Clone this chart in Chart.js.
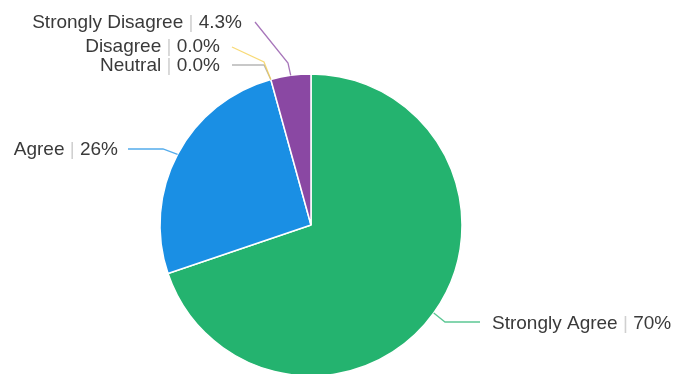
<!DOCTYPE html>
<html>
<head>
<meta charset="utf-8">
<script src="https://cdn.jsdelivr.net/npm/chart.js@4"></script>
<style>
  html, body { margin: 0; padding: 0; background: #fff; overflow: hidden; }
  canvas { display: block; }
</style>
</head>
<body>
<canvas id="pie" width="675" height="374"></canvas>
<script>
// Survey responses, share of respondents in percent
const categories = ['Strongly Agree', 'Agree', 'Neutral', 'Disagree', 'Strongly Disagree'];
const shares = [70, 26, 0.0, 0.0, 4.3];
const sliceColors = ['#24b36f', '#1a8fe4', '#9e9e9e', '#f5cd4a', '#8a48a3'];

// Callout placement for each slice label: a knee point, the end of the leader,
// and where the text sits (x, baseline, alignment).
const callouts = [
  { knee: [445, 322], end: [480, 322], text: [492, 329], align: 'left' },
  { knee: [163, 149], end: [128, 149], text: [118, 155], align: 'right' },
  { knee: [264, 65],  end: [232, 65],  text: [220, 71],  align: 'right' },
  { knee: [264, 62],  end: [232, 47],  text: [220, 52],  align: 'right' },
  { knee: [288, 63],  end: [255, 22],  text: [242, 28],  align: 'right' }
];

function formatShare(v) {
  return (v < 10 ? v.toFixed(1) : v.toFixed(0)) + '%';
}

const calloutPlugin = {
  id: 'callouts',
  afterDatasetsDraw(chart) {
    const ctx = chart.ctx;
    const meta = chart.getDatasetMeta(0);
    ctx.save();
    ctx.font = '19px "Liberation Sans", Arial, sans-serif';
    ctx.textBaseline = 'alphabetic';
    meta.data.forEach((arc, i) => {
      const p = arc.getProps(['x', 'y', 'startAngle', 'endAngle', 'outerRadius'], true);
      const mid = (p.startAngle + p.endAngle) / 2;
      const ax = p.x + Math.cos(mid) * p.outerRadius;
      const ay = p.y + Math.sin(mid) * p.outerRadius;
      const c = callouts[i];

      // leader line, a softened tint of the slice colour
      ctx.save();
      ctx.globalAlpha = 0.75;
      ctx.strokeStyle = sliceColors[i];
      ctx.lineWidth = 1.3;
      ctx.beginPath();
      ctx.moveTo(ax, ay);
      ctx.lineTo(c.knee[0], c.knee[1]);
      ctx.lineTo(c.end[0], c.end[1]);
      ctx.stroke();
      ctx.restore();

      // label: "name | value"
      const name = categories[i];
      const value = formatShare(shares[i]);
      const wName = ctx.measureText(name + ' ').width;
      const wBar = ctx.measureText('|').width;
      const wSp = ctx.measureText(' ').width;
      const wVal = ctx.measureText(value).width;
      const total = wName + wBar + wSp + wVal;
      const x = c.align === 'left' ? c.text[0] : c.text[0] - total;
      const y = c.text[1];
      ctx.textAlign = 'left';
      ctx.fillStyle = '#3a3a3a';
      ctx.fillText(name, x, y);
      ctx.fillStyle = '#d0d0d0';
      ctx.fillText('|', x + wName, y);
      ctx.fillStyle = '#3a3a3a';
      ctx.fillText(value, x + wName + wBar + wSp, y);
    });
    ctx.restore();
  }
};

new Chart(document.getElementById('pie'), {
  type: 'pie',
  data: {
    labels: categories,
    datasets: [{
      data: shares,
      backgroundColor: sliceColors,
      borderColor: '#ffffff',
      borderWidth: 1.5,
      radius: 151,
      clip: false
    }]
  },
  options: {
    responsive: false,
    animation: false,
    devicePixelRatio: 1,
    layout: { padding: { left: 160, right: 213, top: 76, bottom: 0 } },
    plugins: {
      legend: { display: false },
      tooltip: { enabled: false }
    }
  },
  plugins: [calloutPlugin]
});
</script>
</body>
</html>
